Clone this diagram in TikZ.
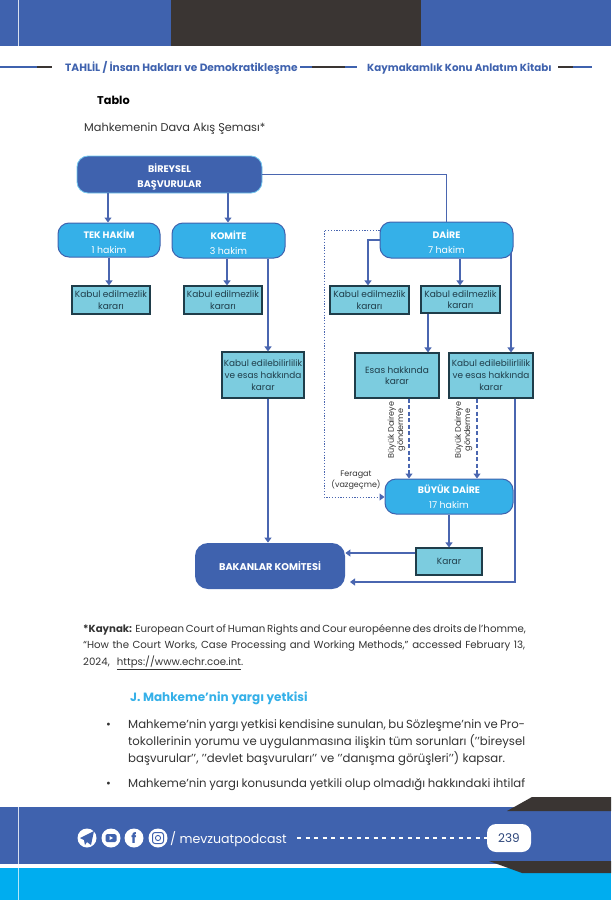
\documentclass[tikz,border=0pt]{standalone}
\usepackage{fontspec}
\setmainfont{Poppins}
\usetikzlibrary{arrows.meta}
\definecolor{bluem}{HTML}{3F62AE}
\definecolor{sky}{HTML}{35B0E8}
\definecolor{teal}{HTML}{7CCCDF}
\definecolor{darkb}{HTML}{1F3D4A}
\definecolor{charc}{HTML}{3A3533}
\definecolor{cyanb}{HTML}{00ADEF}
\definecolor{txt}{HTML}{333333}
\definecolor{linec}{HTML}{4A66B0}
\newcommand\fs[2]{\fontsize{#1}{#2}\selectfont}
\newcommand\st{\rule{0pt}{13pt}}
\tikzset{
 x=1pt,y=-1pt,
 pill/.style={draw=bluem,line width=1pt,fill=sky,rounded corners=11pt,text=white,align=center,inner sep=0pt,font=\fs{9.4}{15}},
 navy/.style={draw=sky!70,line width=0.8pt,fill=bluem,rounded corners=11pt,text=white,align=center,inner sep=0pt,font=\fs{9.6}{15}\bfseries},
 tealbox/.style={draw=darkb,line width=1.1pt,fill=teal,align=center,inner sep=0pt,text=darkb,font=\fs{9}{11.5}},
 tealsm/.style={tealbox,font=\fs{8.9}{12}},
 conn/.style={draw=linec,line width=1.1pt,-{Triangle[length=5pt,width=7pt]}},
 plain/.style={draw=linec,line width=1.1pt},
 dashc/.style={conn,dash pattern=on 4pt off 2.5pt},
 dotc/.style={conn,line width=1pt,dash pattern=on 1.2pt off 1.6pt},
 lbl/.style={anchor=base west,inner sep=0pt,text=txt},
 side/.style={align=center,inner sep=0pt,text=txt,font=\fs{8.1}{9.4}},
 hr/.style={line width=2pt},
 ico/.style={circle,fill=white,minimum size=19pt,inner sep=0pt}
}
\newcommand\jl[2]{\makebox[#1pt][s]{#2}}
\begin{document}
\begin{tikzpicture}
\useasboundingbox (0,0) rectangle (611,900);
% page frame
\fill[bluem] (0,0) rectangle (611,46);
\fill[charc] (171,0) rectangle (421,46);
\draw[white!80!bluem,line width=1pt] (18,0) -- (18,46);
\fill[bluem] (0,807) rectangle (611,864);
\fill[cyanb] (0,868) rectangle (611,900);
\draw[white!80!bluem,line width=1pt] (18,807) -- (18,864);
\draw[white!70!cyanb,line width=1pt] (18,868) -- (18,900);
\fill[charc] (507,811) -- (532,797) -- (611,797) -- (611,811) -- cycle;
\fill[charc] (489,861) -- (611,861) -- (611,873) -- (522,873) -- cycle;
% header
\draw[hr,bluem] (0,67) -- (37,67); \draw[hr,charc] (37,67) -- (52,67);
\draw[hr,bluem] (300,67) -- (312,67); \draw[hr,charc] (312,67) -- (345,67); \draw[hr,bluem] (345,67) -- (357,67);
\draw[hr,charc] (558,67) -- (573,67); \draw[hr,bluem] (573,67) -- (592,67);
\node[lbl,text=bluem,font=\fs{10.6}{12}\bfseries] (h1) at (65,71) {TAHLİL / İnsan Hakları ve Demokratikleşme};
\node[lbl,text=bluem,font=\fs{10.3}{12}\bfseries] (h2) at (367,71) {Kaymakamlık Konu Anlatım Kitabı};
\node[lbl,font=\fs{11.3}{13}\bfseries,text=black] (t1) at (97,104) {Tablo};
\node[lbl,font=\fs{11.3}{13}] (t2) at (84,131) {Mahkemenin Dava Akış Şeması*};
% boxes
\node[navy,minimum width=185pt,minimum height=37pt] (bir) at (169.5,174.5) {\st BİREYSEL\\BAŞVURULAR};
\node[pill,minimum width=102pt,minimum height=34pt] (tek) at (109,240) {\st\textbf{TEK HAKİM}\\1 hakim};
\node[pill,minimum width=113pt,minimum height=35pt] (kom) at (228.5,240.5) {\st\textbf{KOMİTE}\\3 hakim};
\node[pill,minimum width=133pt,minimum height=36pt] (dai) at (446.5,240) {\st\textbf{DAİRE}\\7 hakim};
\node[pill,minimum width=128pt,minimum height=35pt] (buy) at (449,496.5) {\textbf{BÜYÜK DAİRE}\\17 hakim};
\node[tealbox,minimum width=78pt,minimum height=28pt] (k1) at (111,300) {Kabul edilmezlik\\kararı};
\node[tealbox,minimum width=78pt,minimum height=28pt] (k2) at (223,300) {Kabul edilmezlik\\kararı};
\node[tealbox,minimum width=79pt,minimum height=28pt] (k3) at (369.5,300) {Kabul edilmezlik\\kararı};
\node[tealbox,minimum width=79pt,minimum height=27pt] (k4) at (460.5,299.5) {Kabul edilmezlik\\kararı};
\node[tealsm,minimum width=82pt,minimum height=46pt] (ke1) at (263,375) {Kabul edilebilirlilik\\ve esas hakkında\\karar};
\node[tealbox,minimum width=84pt,minimum height=45pt] (es) at (397,375.5) {Esas hakkında\\karar};
\node[tealsm,minimum width=84pt,minimum height=45pt] (ke2) at (491,375.5) {Kabul edilebilirlilik\\ve esas hakkında\\karar};
\node[tealbox,minimum width=66pt,minimum height=27pt] (kar) at (449,561.5) {Karar};
\node[navy,draw=none,rounded corners=13pt,minimum width=150pt,minimum height=46pt,font=\fs{9.8}{11}\bfseries] (bak) at (270,566) {BAKANLAR KOMİTESİ};
% connectors
\coordinate (fr) at (350,582);
\coordinate (dl) at (324,230);
\coordinate (dm) at (324,497);
\draw[plain] (bir.east) -- (bir.east -| dai.north) -- (dai.north);
\draw[conn] (108,0 |- bir.south) -- (108,0 |- tek.north);
\draw[conn] (228,0 |- bir.south) -- (228,0 |- kom.north);
\draw[conn] (109,0 |- tek.south) -- (109,0 |- k1.north);
\draw[conn] (227,0 |- kom.south) -- (227,0 |- k2.north);
\draw[conn] (268,0 |- kom.south) -- (268,0 |- ke1.north);
\draw[conn] (268,0 |- ke1.south) -- (268,0 |- bak.north);
\draw[conn] (dai.west) -- (368,240) -- (368,0 |- k3.north);
\draw[conn] (460,0 |- dai.south) -- (460,0 |- k4.north);
\draw[conn] (428,0 |- k4.south) -- (428,0 |- es.north);
\draw[conn] (511,253) -- (511,0 |- ke2.north);
\draw[dashc] (409,0 |- es.south) -- (409,0 |- buy.north);
\draw[dashc] (477,0 |- ke2.south) -- (477,0 |- buy.north);
\draw[dotc] (dai.west |- dl) -- (dl) -- (dm) -- (dm -| buy.west);
\draw[conn] (449,0 |- buy.south) -- (449,0 |- kar.north);
\draw[conn] (kar.west |- 0,553) -- (bak.east |- 0,553);
\draw[conn] (515,0 |- ke2.south) -- (515,582) -- (fr);
% side labels
\node[side,rotate=90] (s1) at (396.5,430) {Büyük Daireye\\gönderme};
\node[side,rotate=90] (s2) at (463.5,430) {Büyük Daireye\\gönderme};
\node[side,font=\fs{8}{9.2}] (fe) at (356,480.5) {Feragat\\(vazgeçme)};
% footnote
\node[lbl,font=\fs{10.2}{12}] (f1) at (83,632) {\jl{442}{\textbf{*Kaynak:} European Court of Human Rights and Cour européenne des droits de l’homme,}};
\node[lbl,font=\fs{10.2}{12}] (f2) at (83,648) {\jl{442}{“How the Court Works, Case Processing and Working Methods,” accessed February 13,}};
\node[lbl,font=\fs{10.2}{12}] (f3) at (83,665) {\jl{160}{2024, \underline{https://www.echr.coe.int}.}};
\node[lbl,text=sky,font=\fs{12}{14}\bfseries] (j) at (130,701) {J. Mahkeme’nin yargı yetkisi};
% bullets
\node[lbl,font=\fs{11.7}{14}] (b0) at (106,728) {•};
\node[lbl,font=\fs{11.7}{14}] (b1) at (128,728) {\jl{397}{Mahkeme’nin yargı yetkisi kendisine sunulan, bu Sözleşme’nin ve Pro-}};
\node[lbl,font=\fs{11.7}{14}] (b2) at (128,745) {\jl{397}{tokollerinin yorumu ve uygulanmasına ilişkin tüm sorunları (’’bireysel}};
\node[lbl,font=\fs{11.7}{14}] (b3) at (128,762) {\jl{377}{başvurular’’, ’’devlet başvuruları’’ ve ’’danışma görüşleri’’) kapsar.}};
\node[lbl,font=\fs{11.7}{14}] (b4) at (106,787) {•};
\node[lbl,font=\fs{11.7}{14}] (b5) at (128,787) {\jl{397}{Mahkeme’nin yargı konusunda yetkili olup olmadığı hakkındaki ihtilaf}};
% footer
\node[ico] (i1) at (87,838) {};
\fill[bluem] (80,838) -- (94,831) -- (91,845) -- (87,842) -- (85,845) -- (84,840) -- cycle;
\node[ico] (i2) at (111,838) {};
\fill[bluem,rounded corners=1.5pt] (105.5,834) rectangle (116.5,842);
\fill[white] (109.5,836) -- (113,838) -- (109.5,840) -- cycle;
\node[ico,text=bluem,font=\fs{14}{14}\bfseries] (i3) at (134,838) {f};
\node[ico] (i4) at (158,838) {};
\draw[bluem,line width=1pt,rounded corners=2.5pt] (152.5,832.5) rectangle (163.5,843.5);
\draw[bluem,line width=0.9pt] (158,838) circle (2.6pt);
\node[lbl,text=white,font=\fs{12.6}{14}] (pod) at (170,843) {/ mevzuatpodcast};
\node[fill=white,rounded corners=9pt,minimum width=44pt,minimum height=28pt,inner sep=0pt,text=bluem!70!black,font=\fs{12}{14}] (pg) at (509,838) {239};
\coordinate (ds) at (297,838);
\draw[white,line width=1.1pt,dash pattern=on 4pt off 4.5pt] (ds) -- (pg.west);
\end{tikzpicture}
\end{document}
